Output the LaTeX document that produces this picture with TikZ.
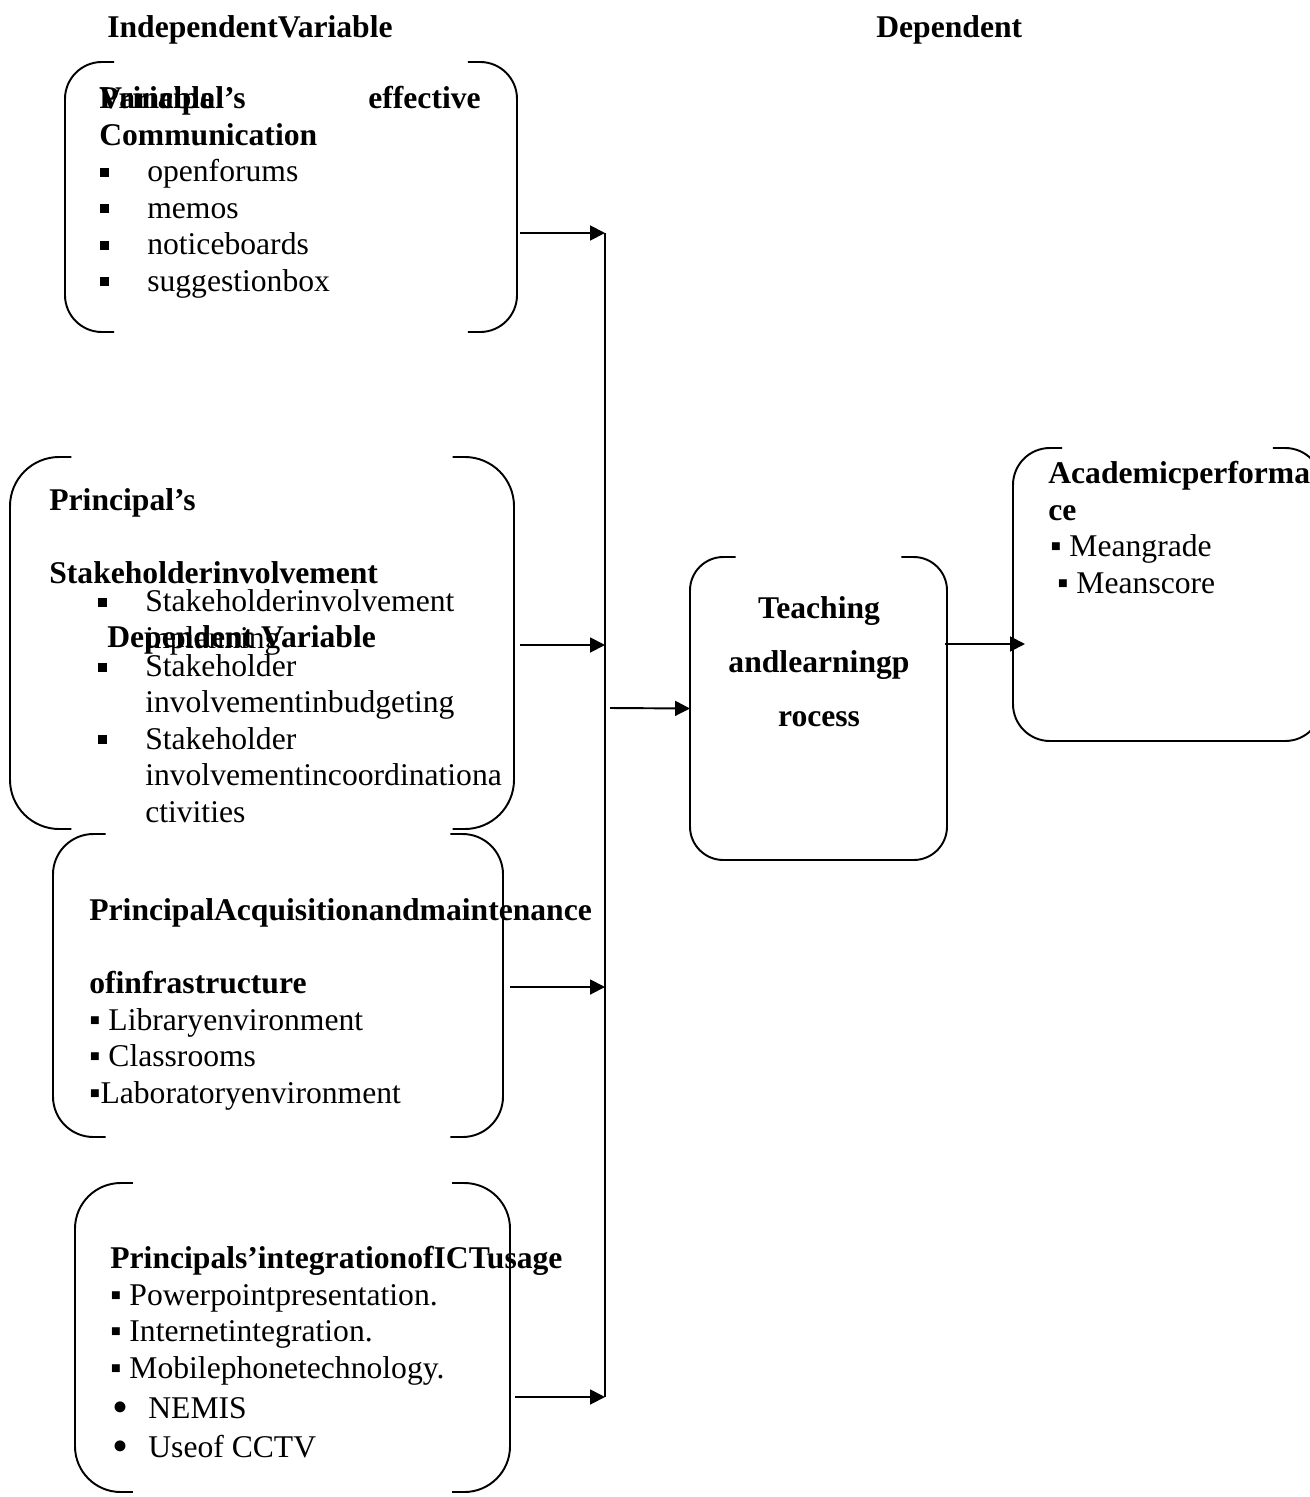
\documentclass[tikz,border=0pt]{standalone}
\usepackage{fontspec}
\setmainfont{Liberation Serif}
\usepackage{tikz}
\usetikzlibrary{arrows.meta,fit,calc}

\newcommand{\diagfont}{\fontsize{18}{20.7}\selectfont}
\newcommand{\sqb}{\rule[2.8pt]{5.1pt}{5.1pt}}
\newcommand{\sqitem}{\makebox[26.7pt][l]{\sqb}}
\newcommand{\sqindent}{\hspace*{26.7pt}}
\newcommand{\dotitem}{\makebox[20.5pt][l]{\raisebox{-2.5pt}{\fontsize{26}{20}\selectfont •}}}
% rounded box with open top and bottom: name, corner radius
\newcommand{\bracketbox}[2]{%
  \draw[edge, rounded corners=#2] ([xshift=#2+7pt]#1.north west) -- (#1.north west) -- (#1.south west) -- ([xshift=#2+7pt]#1.south west);
  \draw[edge, rounded corners=#2] ([xshift=-#2-7pt]#1.north east) -- (#1.north east) -- (#1.south east) -- ([xshift=-#2-7pt]#1.south east);
}

\begin{document}
\begin{tikzpicture}[x=0.02cm, y=-0.02cm,
  font=\diagfont,
  txt/.style={anchor=base west, inner sep=0pt, align=left},
  hd/.style={txt, font=\diagfont\bfseries},
  area/.style={inner sep=0pt, outer sep=0pt},
  edge/.style={line width=1.1pt},
  >={Triangle[length=8.5pt,width=8.5pt]}]
\useasboundingbox (0,0) rectangle (1310,1497);

% headings
\node[hd] (indep) at (107,38) {IndependentVariable};
\node[hd] (dep) at (876,38) {Dependent};

% box areas
\node[area, fit={(65,62) (517,332)}] (comm) {};
\node[area, fit={(10,457) (514,829)}] (stake) {};
\node[area, fit={(53,834) (503,1137)}] (infra) {};
\node[area, fit={(75,1183) (510,1492)}] (ict) {};
\node[area, fit={(690,557) (947,860)}] (teach) {};
\node[area, fit={(1013,448) (1322,741)}] (acad) {};

\bracketbox{comm}{21pt}
\bracketbox{stake}{28pt}
\bracketbox{infra}{23pt}
\bracketbox{ict}{26pt}
\bracketbox{teach}{19pt}
\bracketbox{acad}{21pt}
\draw[edge] ([xshift=19pt]teach.south west) -- ([xshift=-19pt]teach.south east);
\draw[edge] ([xshift=21pt]acad.south west) -- ([xshift=-21pt]acad.south east);

% communication (base = last line)
\node[hd] (commT) at (99,145) {Principal’s\\Communication};
\node[hd] (commV) at (99,109) {Variable};
\node[hd, anchor=base east] (commE) at (481,109) {effective};
\node[txt] (commL) at (100,291) {\sqitem openforums\\ \sqitem memos\\ \sqitem noticeboards\\ \sqitem suggestionbox};

% stakeholder involvement
\node[hd] (stakeT) at (49,583) {Principal’s\\[20.7pt]Stakeholderinvolvement};
\node[txt] (stakeA) at (98,648) {\sqitem Stakeholderinvolvement\\ \sqindent inplanning};
\node[hd] (stakeV) at (107,647) {Dependent Variable};
\node[txt] (stakeB) at (98,822) {\sqitem Stakeholder\\ \sqindent involvementinbudgeting\\ \sqitem Stakeholder\\ \sqindent involvementincoordinationa\\ \sqindent ctivities};

% infrastructure
\node[hd] (infraT) at (89,993) {PrincipalAcquisitionandmaintenance\\[20.7pt]ofinfrastructure};
\node[txt] (infraL) at (89,1103) {▪ Libraryenvironment\\▪ Classrooms\\▪Laboratoryenvironment};

% ICT
\node[hd] (ictT) at (110,1268) {Principals’integrationofICTusage};
\node[txt] (ictL) at (110,1378) {▪ Powerpointpresentation.\\▪ Internetintegration.\\▪ Mobilephonetechnology.};
\node[txt] (ictM) at (112,1457) {\dotitem NEMIS\\[1.5pt]\dotitem Useof CCTV};

% teaching and learning
\node[hd, anchor=base, align=center] (teachT) at (819,726) {Teaching\\[10pt]andlearningp\\[10pt]rocess};

% academic performance
\node[hd] (acadT) at (1048,520) {Academicperforma\\ce};
\node[txt] (acadL) at (1050,593) {▪ Meangrade\\\hspace*{4pt}▪ Meanscore};

% connectors
\coordinate (busT) at (605,233);
\coordinate (bus2) at (605,645);
\coordinate (bus3) at (605,987);
\coordinate (busB) at (605,1397);
\coordinate (busM) at (605,708);
\coordinate (acIn) at (1025,644);
\draw[edge] (busT) -- (busB);
\draw[edge,->] ($(comm.east |- busT)+(3,0)$) -- (busT);
\draw[edge,->] ($(stake.east |- bus2)+(6,0)$) -- (bus2);
\draw[edge,->] ($(infra.east |- bus3)+(7,0)$) -- (bus3);
\draw[edge,->] ($(ict.east |- busB)+(5,0)$) -- (busB);
\draw[edge,->] ($(busM)+(5,0)$) -- (teach.west);
\draw[edge,->] ($(teach.east |- acIn)+(-2,0)$) -- (acIn);
\end{tikzpicture}
\end{document}
